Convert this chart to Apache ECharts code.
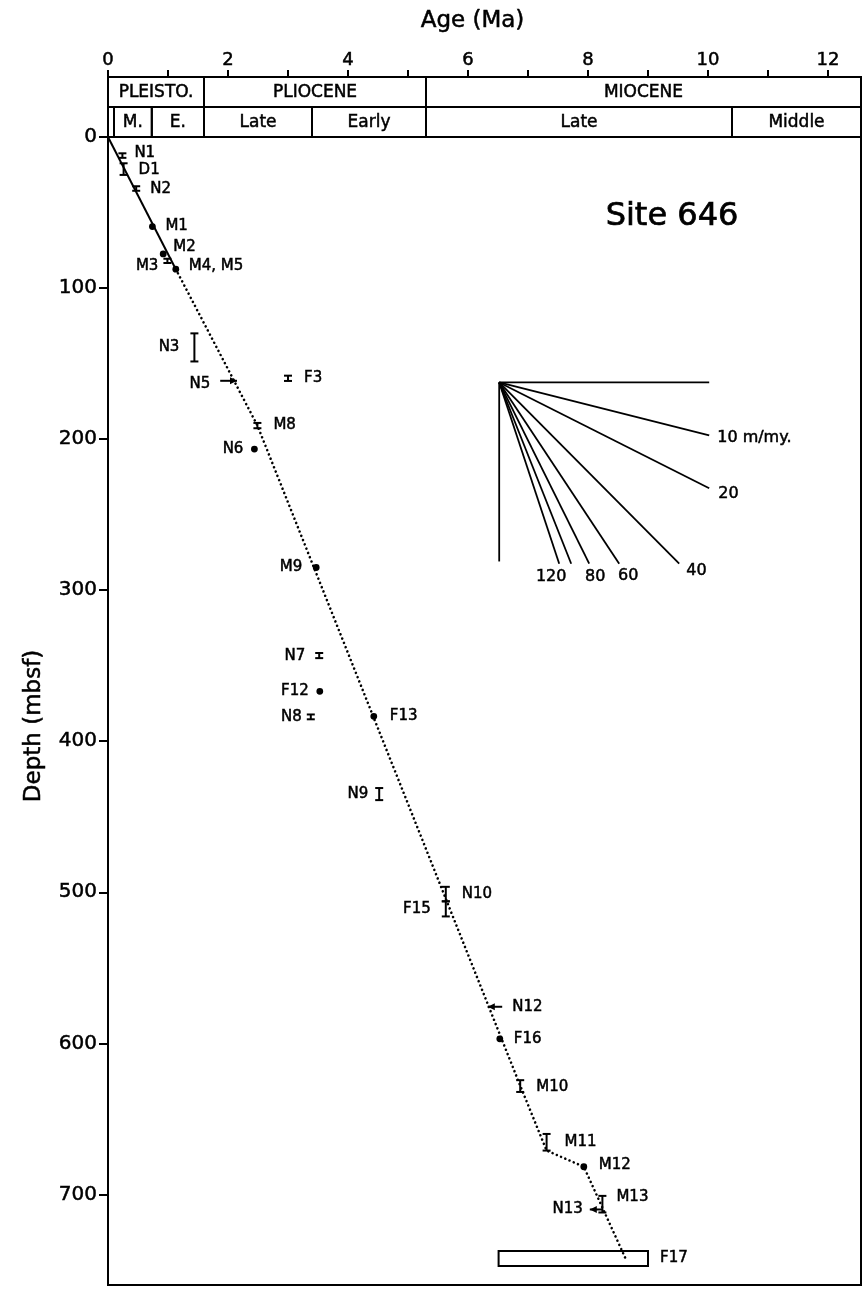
<!DOCTYPE html>
<html><head><meta charset="utf-8">
<script src="https://cdn.jsdelivr.net/npm/echarts@6/dist/echarts.min.js"></script>
<style>html,body{margin:0;padding:0;background:#fff}#c{width:867px;height:1289px}</style>
</head><body><div id="c"></div>
<script>
// ---------- data ----------
const AGE_MAX = 12.55;
const DEPTH_MAX = 760;
const ageTicks = [0,1,2,3,4,5,6,7,8,9,10,11,12];
const ageLabels = [0,2,4,6,8,10,12];
const depthTicks = [0,100,200,300,400,500,600,700];

// chronostratigraphic header
const epochNames = ['PLEISTO.', 'PLIOCENE', 'MIOCENE'];
const epochStart = [0, 1.6, 5.3];
const epochEnd   = [1.6, 5.3, AGE_MAX];
const subNames = ['', 'M.', 'E.', 'Late', 'Early', 'Late', 'Middle'];
const subStart = [0, 0.1, 0.73, 1.6, 3.4, 5.3, 10.4];
const subEnd   = [0.1, 0.73, 1.6, 3.4, 5.3, 10.4, AGE_MAX];

// datums shown as dots
const dotNames = ['M1','M2','M4, M5','N6','M9','F12','F13','F16','M12'];
const dotAge   = [0.74, 0.92, 1.13, 2.44, 3.47, 3.53, 4.43, 6.53, 7.93];
const dotDepth = [59.3, 77.4, 87.5, 206.6, 285, 367, 383.5, 597, 681.7];

// datums shown as depth ranges (I-bars)
const rangeNames = ['N1','D1','N2','M3','N3','F3','M8','N7','N8','N9','N10','F15','M10','M11','M13'];
const rangeAge   = [0.24, 0.26, 0.47, 0.99, 1.44, 3.0, 2.49, 3.52, 3.38, 4.52, 5.63, 5.63, 6.87, 7.31, 8.24];
const rangeTop   = [10.8, 17.4, 32.6, 80.6, 130, 158, 189.3, 341.6, 382.3, 431, 496.4, 506, 624.4, 660, 701];
const rangeBase  = [13.8, 25.1, 35.6, 83.4, 148.6, 161.5, 192.8, 345, 385.5, 439, 506, 516, 632.2, 671, 712];

// datums shown as arrows (age limits)
const arrowNames = ['N5','N12','N13'];
const arrowTail  = [1.87, 6.57, 8.25];
const arrowHead  = [2.15, 6.33, 8.03];
const arrowDepth = [161.4, 575.8, 710];

// age range box
const boxNames = ['F17'];
const boxAgeFrom = [6.51];
const boxAgeTo = [9.0];
const boxDepthTop = [737.5];
const boxDepthBase = [747.5];

// age-depth curve
const solidAge   = [0, 1.13];
const solidDepth = [0, 87.5];
const dottedAge   = [1.13, 2.49, 6.87, 7.31, 7.93, 8.62];
const dottedDepth = [87.5, 191, 628, 671, 681.7, 742];

// sedimentation-rate fan (m/my)
const fanOriginAge = 6.52, fanOriginDepth = 162.5;
const fanRates  = [0, 10, 20, 40, 60, 80, 100, 120];
const fanLabels = ['', '10 m/my.', '20', '40', '60', '80', '', '120'];

// ---------- rendering ----------
const FONT = 'DejaVu Sans';
const LBL = '15px "DejaVu Sans"';
const TB = {textBorderColor:'#000', textBorderWidth:0.5};
const LABEL_OFFSET = {
 'N1':[12,-2],'D1':[15,1],'N2':[14,1],'M1':[13,0],'M2':[10,-7],'M3':[-9,5],'M4, M5':[13,-3],
 'N3':[-15,0],'N5':[-10,3],'F3':[16,0],'M8':[16,0],'N6':[-11,0],'M9':[-14,0],
 'N7':[-14,1],'F12':[-11,0],'N8':[-9,0],'F13':[16,0],'N9':[-11,0],'N10':[16,0],'F15':[-15,0],
 'N12':[10,0],'F16':[14,0],'M10':[16,1],'M11':[18,0],'M12':[15,-2],'M13':[14,-7],'N13':[-7,0],'F17':[12,0]
};
const FAN_LABEL = { 10:[8,3,'left'], 20:[9,6,'left'], 40:[7,7,'left'], 60:[9,12,'center'], 80:[6,13,'center'], 120:[-8,13,'center'] };

function txt(o) { return Object.assign({fill:'#000', stroke:'#000', lineWidth:0.5}, o); }

function label(name, xl, xr, y) {
  const o = LABEL_OFFSET[name] || [10,0];
  const right = o[0] >= 0;
  return {type:'text', style:txt({text:name, x:(right? xr : xl) + o[0], y:y + o[1],
    align: right ? 'left' : 'right', verticalAlign:'middle', font:LBL})};
}

const stroke = {stroke:'#000', lineWidth:2};

const cells = [];
epochNames.forEach((n,i)=>cells.push([epochStart[i], epochEnd[i], 0, n]));
subNames.forEach((n,i)=>cells.push([subStart[i], subEnd[i], 1, n]));

const chart = echarts.init(document.getElementById('c'), null, {renderer:'canvas'});
chart.setOption({
  animation:false,
  backgroundColor:'#fff',
  grid:[
    {left:108, right:6, top:137, bottom:4, show:true, borderColor:'#000', borderWidth:2, backgroundColor:'transparent'},
    {left:108, right:6, top:77, height:60}
  ],
  xAxis:[
    {gridIndex:0, type:'value', min:0, max:AGE_MAX, interval:1, position:'top', offset:60,
     axisLine:{show:true, onZero:false, lineStyle:{color:'#000', width:2}},
     axisTick:{show:true, length:7, customValues:ageTicks, lineStyle:{color:'#000', width:2}},
     axisLabel:Object.assign({customValues:ageLabels, fontSize:18, color:'#000', fontFamily:FONT, margin:8,
       formatter:v=> (v%2===0 && v<=12) ? String(v) : ''}, TB),
     splitLine:{show:false},
     name:'Age (Ma)', nameLocation:'middle', nameGap:44,
     nameTextStyle:Object.assign({fontSize:23, color:'#000', fontFamily:FONT, padding:[0,24,0,0]}, TB)},
    {gridIndex:1, type:'value', min:0, max:AGE_MAX, show:false}
  ],
  yAxis:[
    {gridIndex:0, type:'value', inverse:true, min:0, max:DEPTH_MAX, interval:100,
     axisLine:{show:true, onZero:false, lineStyle:{color:'#000', width:2}},
     axisTick:{show:true, length:9, customValues:depthTicks, lineStyle:{color:'#000', width:2}},
     axisLabel:Object.assign({customValues:depthTicks, fontSize:20, color:'#000', fontFamily:FONT, margin:11,
       formatter:v=> (v%100===0 && v<=700) ? String(v) : ''}, TB),
     splitLine:{show:false},
     name:'Depth (mbsf)', nameLocation:'middle', nameGap:62, nameRotate:90,
     nameTextStyle:Object.assign({fontSize:23, color:'#000', fontFamily:FONT, padding:[0,30,0,0]}, TB)},
    {gridIndex:1, type:'value', min:0, max:2, inverse:true, show:false}
  ],
  graphic:[
    {type:'text', x:672, y:217, style:txt({text:'Site 646', align:'center', verticalAlign:'middle', font:'32px "DejaVu Sans"', lineWidth:0.7})}
  ],
  series:[
    // header cells
    {type:'custom', xAxisIndex:1, yAxisIndex:1, data:cells, encode:{x:[0,1], y:2}, silent:true,
     renderItem:(p,api)=>{
       const a = api.coord([api.value(0), api.value(2)]);
       const b = api.coord([api.value(1), api.value(2)+1]);
       return {type:'group', children:[
         {type:'rect', shape:{x:a[0], y:a[1], width:b[0]-a[0], height:b[1]-a[1]}, style:{fill:null, stroke:'#000', lineWidth:2}},
         {type:'text', style:txt({text:cells[p.dataIndex][3], x:(a[0]+b[0])/2, y:(a[1]+b[1])/2+1, align:'center', verticalAlign:'middle', font:'17px "DejaVu Sans"'})}
       ]};
     }},
    // solid curve
    {type:'line', data:solidAge.map((a,i)=>[a, solidDepth[i]]), symbol:'none', silent:true,
     lineStyle:{color:'#000', width:2}},
    // dotted curve
    {type:'line', data:dottedAge.map((a,i)=>[a, dottedDepth[i]]), symbol:'none', silent:true,
     lineStyle:{color:'#000', width:2.6, type:[0.01,4.6], cap:'round'}},
    // rate fan rays
    {type:'custom', data:fanRates.map((r,i)=>[r, i]), encode:{x:0, y:1}, silent:true, clip:false,
     renderItem:(p,api)=>{
       const r = api.value(0);
       const t = r === 0 ? 3.5 : Math.min(3.5, 120 / r);
       const o = api.coord([fanOriginAge, fanOriginDepth]);
       const e = api.coord([fanOriginAge + t, fanOriginDepth + r * t]);
       const ch = [{type:'line', shape:{x1:o[0], y1:o[1], x2:e[0], y2:e[1]}, style:{stroke:'#000', lineWidth:1.8}}];
       const tx = fanLabels[p.dataIndex];
       if (tx) {
         const f = FAN_LABEL[r];
         ch.push({type:'text', style:txt({text:tx, x:e[0]+f[0], y:e[1]+f[1], align:f[2], verticalAlign:'middle', font:'16px "DejaVu Sans"'})});
       }
       return {type:'group', children:ch};
     }},
    // fan vertical stroke
    {type:'line', data:[[fanOriginAge, fanOriginDepth],[fanOriginAge, fanOriginDepth+118.5]], symbol:'none', silent:true,
     lineStyle:{color:'#000', width:1.8}},
    // dots
    {type:'custom', data:dotAge.map((a,i)=>[a, dotDepth[i]]), encode:{x:0, y:1}, silent:true,
     renderItem:(p,api)=>{
       const c = api.coord([api.value(0), api.value(1)]);
       return {type:'group', children:[
         {type:'circle', shape:{cx:c[0], cy:c[1], r:3.4}, style:{fill:'#000'}},
         label(dotNames[p.dataIndex], c[0], c[0], c[1])
       ]};
     }},
    // I-bars
    {type:'custom', data:rangeAge.map((a,i)=>[a, rangeTop[i], rangeBase[i]]), encode:{x:0, y:[1,2]}, silent:true,
     renderItem:(p,api)=>{
       const t = api.coord([api.value(0), api.value(1)]);
       const b = api.coord([api.value(0), api.value(2)]);
       const w = 4;
       return {type:'group', children:[
         {type:'line', shape:{x1:t[0], y1:t[1], x2:b[0], y2:b[1]}, style:stroke},
         {type:'line', shape:{x1:t[0]-w, y1:t[1], x2:t[0]+w, y2:t[1]}, style:stroke},
         {type:'line', shape:{x1:b[0]-w, y1:b[1], x2:b[0]+w, y2:b[1]}, style:stroke},
         label(rangeNames[p.dataIndex], t[0], t[0], (t[1]+b[1])/2)
       ]};
     }},
    // arrows
    {type:'custom', data:arrowTail.map((a,i)=>[a, arrowHead[i], arrowDepth[i]]), encode:{x:[0,1], y:2}, silent:true,
     renderItem:(p,api)=>{
       const s = api.coord([api.value(0), api.value(2)]);
       const h = api.coord([api.value(1), api.value(2)]);
       const dir = h[0] > s[0] ? 1 : -1;
       return {type:'group', children:[
         {type:'line', shape:{x1:s[0], y1:s[1], x2:h[0], y2:h[1]}, style:stroke},
         {type:'polygon', shape:{points:[[h[0],h[1]],[h[0]-dir*7,h[1]-3.5],[h[0]-dir*7,h[1]+3.5]]}, style:{fill:'#000'}},
         label(arrowNames[p.dataIndex], Math.min(s[0],h[0]), Math.max(s[0],h[0]), s[1])
       ]};
     }},
    // age-range box
    {type:'custom', data:boxAgeFrom.map((a,i)=>[a, boxAgeTo[i], boxDepthTop[i], boxDepthBase[i]]), encode:{x:[0,1], y:[2,3]}, silent:true,
     renderItem:(p,api)=>{
       const a = api.coord([api.value(0), api.value(2)]);
       const b = api.coord([api.value(1), api.value(3)]);
       return {type:'group', children:[
         {type:'rect', shape:{x:a[0], y:a[1], width:b[0]-a[0], height:b[1]-a[1]}, style:{fill:'#fff', stroke:'#000', lineWidth:2}},
         label(boxNames[p.dataIndex], a[0], b[0], (a[1]+b[1])/2)
       ]};
     }}
  ]
});
</script>
</body></html>
